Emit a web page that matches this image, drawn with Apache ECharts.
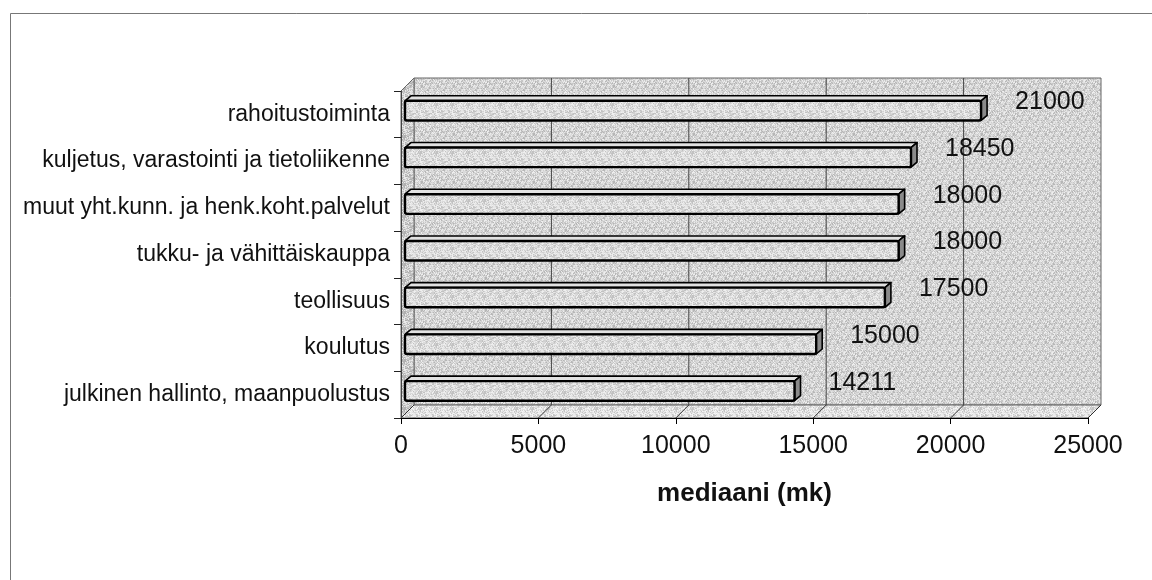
<!DOCTYPE html>
<html>
<head>
<meta charset="utf-8">
<script src="https://cdn.jsdelivr.net/npm/echarts@6/dist/echarts.min.js"></script>
<style>
html,body{margin:0;padding:0;background:#fff;}
#chart{width:1152px;height:580px;}
</style>
</head>
<body>
<div id="chart"></div>
<script>
// ---- data ----
const categories = [
  'rahoitustoiminta',
  'kuljetus, varastointi ja tietoliikenne',
  'muut yht.kunn. ja henk.koht.palvelut',
  'tukku- ja vähittäiskauppa',
  'teollisuus',
  'koulutus',
  'julkinen hallinto, maanpuolustus'
];
const values = [21000, 18450, 18000, 18000, 17500, 15000, 14211];
const xTicks = [0, 5000, 10000, 15000, 20000, 25000];
const axisTitle = 'mediaani (mk)';

// ---- styling helpers ----
const FONT = "'Liberation Sans', Arial, sans-serif";
// deterministic dither texture (purely decorative)
function makePattern(shades) {
  const N = 16;
  const cv = document.createElement('canvas');
  cv.width = N; cv.height = N;
  const ctx = cv.getContext('2d');
  for (let y = 0; y < N; y++) for (let x = 0; x < N; x++) {
    let hsh = (x * 374761393 + y * 668265263) >>> 0;
    hsh = ((hsh ^ (hsh >>> 13)) * 1274126177) >>> 0;
    hsh = (hsh ^ (hsh >>> 16)) >>> 0;
    ctx.fillStyle = shades[hsh % shades.length];
    ctx.fillRect(x, y, 1, 1);
  }
  return { image: cv, repeat: 'repeat' };
}
const wallFill = makePattern(['#b6b6b6', '#e4e4e4', '#c6c6c6', '#eeeeee', '#cecece', '#dadada']);
const sideWallFill = makePattern(['#b0b0b0', '#e0e0e0', '#bebebe', '#eaeaea', '#c8c8c8']);
const floorFill = makePattern(['#c4c4c4', '#ececec', '#d4d4d4', '#f6f6f6', '#e0e0e0']);
const barFill = makePattern(['#c2c2c2', '#e6e6e6', '#d0d0d0', '#efefef', '#dadada']);
const DX = 13, DY = -13; // depth of the 3D box

const chart = echarts.init(document.getElementById('chart'), null, { renderer: 'canvas' });

const option = {
  animation: false,
  backgroundColor: '#ffffff',
  textStyle: { fontFamily: FONT },
  graphic: [{
    type: 'rect', silent: true, z: 0,
    shape: { x: 10.5, y: 13.5, width: 1160, height: 600 },
    style: { fill: 'none', stroke: '#777', lineWidth: 1 }
  }],
  grid: { left: 401, top: 91, width: 687, height: 327, containLabel: false },
  xAxis: {
    type: 'value', min: 0, max: 25000, interval: 5000, z: 5,
    axisLine: { show: true, lineStyle: { color: '#000', width: 1 } },
    axisTick: { show: true, length: 6, lineStyle: { color: '#000' } },
    axisLabel: { fontSize: 25, margin: 16, color: '#111', fontFamily: FONT,
      formatter: function (v) { return String(v); } },
    splitLine: { show: false },
    name: axisTitle, nameLocation: 'middle', nameGap: 63,
    nameTextStyle: { fontSize: 26, fontWeight: 'bold', color: '#111', fontFamily: FONT }
  },
  yAxis: {
    type: 'category', data: categories, inverse: true, z: 5,
    axisLine: { show: true, lineStyle: { color: '#444', width: 1 } },
    axisTick: { show: true, length: 7, lineStyle: { color: '#222' } },
    axisLabel: { fontSize: 23, margin: 11, color: '#111', fontFamily: FONT },
    splitLine: { show: false }
  },
  series: [
    {
      type: 'custom', name: 'walls', z: 1, silent: true,
      data: [[0, 0]],
      encode: { x: 0, y: 1 },
      renderItem: function (params, api) {
        const cs = params.coordSys;
        const x = cs.x, y = cs.y, w = cs.width, h = cs.height;
        const children = [];
        children.push({ type: 'rect', shape: { x: x + DX, y: y + DY, width: w, height: h },
          style: { fill: wallFill, stroke: '#666', lineWidth: 1 } });
        children.push({ type: 'polygon', shape: { points: [[x, y], [x + DX, y + DY], [x + DX, y + h + DY], [x, y + h]] },
          style: { fill: sideWallFill, stroke: '#666', lineWidth: 1 } });
        children.push({ type: 'polygon', shape: { points: [[x, y + h], [x + DX, y + h + DY], [x + w + DX, y + h + DY], [x + w, y + h]] },
          style: { fill: floorFill, stroke: '#666', lineWidth: 1 } });
        xTicks.forEach(function (t) {
          const px = api.coord([t, 0])[0];
          if (t > 0 && t < 25000) {
            children.push({ type: 'line', shape: { x1: px + DX, y1: y + DY, x2: px + DX, y2: y + h + DY },
              style: { stroke: '#444', lineWidth: 1 } });
          }
          children.push({ type: 'line', shape: { x1: px, y1: y + h, x2: px + DX, y2: y + h + DY },
            style: { stroke: '#333', lineWidth: 1 } });
        });
        return { type: 'group', children: children };
      }
    },
    {
      type: 'custom', name: 'mediaani', z: 3,
      data: values.map(function (v, i) { return [v, i]; }),
      encode: { x: 0, y: 1 },
      renderItem: function (params, api) {
        const v = api.value(0);
        const end = api.coord([v, api.value(1)]);
        const start = api.coord([0, api.value(1)]);
        const band = api.size([0, 1])[1];
        const cc = end[1];
        const h = band * 0.42;
        const y0 = cc - band * 0.29;
        const y1 = y0 + h;
        const x0 = start[0] + 4;
        const x1 = end[0] + 3;
        const dx = 6, dy = -5;
        return {
          type: 'group',
          children: [
            { type: 'polygon', shape: { points: [[x0, y0], [x0 + dx, y0 + dy], [x1 + dx, y0 + dy], [x1, y0]] },
              style: { fill: '#e2e2e2', stroke: '#000', lineWidth: 1.6, lineJoin: 'round' } },
            { type: 'polygon', shape: { points: [[x1, y0], [x1 + dx, y0 + dy], [x1 + dx, y1 + dy], [x1, y1]] },
              style: { fill: '#8a8a8a', stroke: '#000', lineWidth: 1.6, lineJoin: 'round' } },
            { type: 'rect', shape: { x: x0, y: y0, width: x1 - x0, height: h, r: 2 },
              style: { fill: barFill, stroke: '#000', lineWidth: 2.4 } },
            { type: 'text', x: end[0] + 37, y: cc - 12,
              style: { text: String(v), fontSize: 25, fontFamily: FONT, fill: '#111',
                align: 'left', verticalAlign: 'middle' } }
          ]
        };
      }
    }
  ]
};
chart.setOption(option);
</script>
</body>
</html>
